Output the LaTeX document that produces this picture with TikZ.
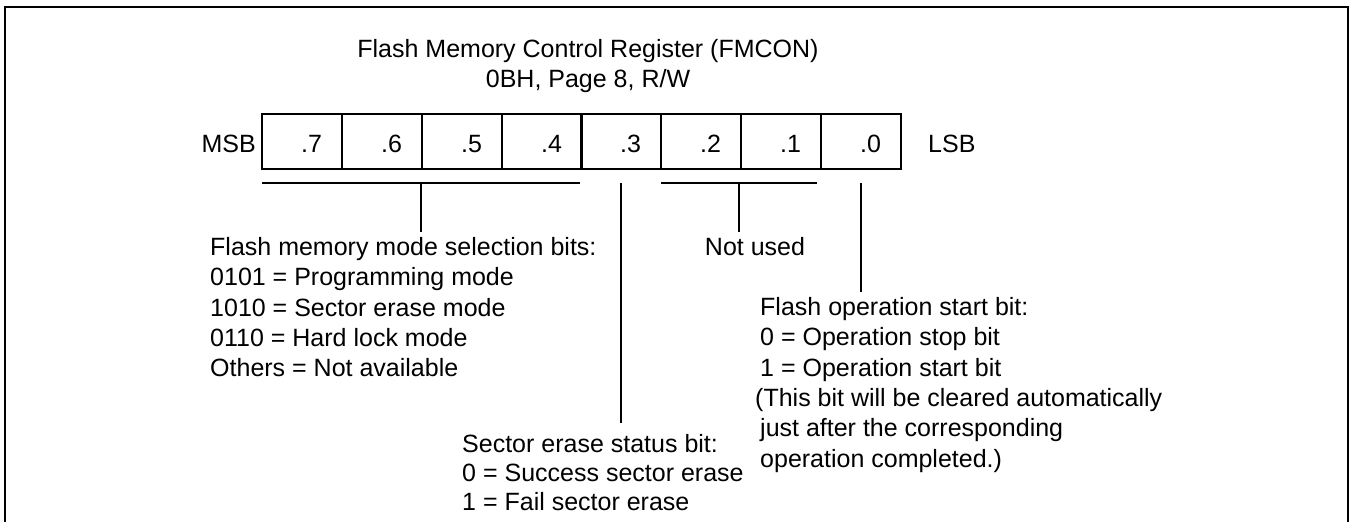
\documentclass[tikz,border=0pt]{standalone}
\usepackage{fontspec}
\setmainfont{Liberation Sans}
\usetikzlibrary{calc}

\begin{document}
\begin{tikzpicture}[x=1pt, y=-1pt,
  font=\fontsize{25pt}{30.4pt}\selectfont,
  cell/.style={rectangle, draw, line width=1.4pt, minimum width=80pt, minimum height=55pt, inner sep=0pt, outer sep=0pt, text width=40pt, text height=21pt, text depth=0pt, align=right},
  note/.style={inner sep=0pt, align=left, anchor=north west},
  bracket/.style={line width=1.8pt},
  stub/.style={line width=1.3pt}
]
\useasboundingbox (0,0) rectangle (1352,522);
\draw[line width=2pt] (5,522) -- (5,7) -- (1348,7) -- (1348,522);

\node[inner sep=0pt, align=center, anchor=north] (title) at (588,39) {Flash Memory Control Register (FMCON)\\0BH, Page 8, R/W};

\node[cell] (b7) at (302,141.5) {.7};
\node[cell] (b6) at (382,141.5) {.6};
\node[cell] (b5) at (462,141.5) {.5};
\node[cell] (b4) at (542,141.5) {.4};
\node[cell] (b3) at (621,141.5) {.3};
\node[cell] (b2) at (701,141.5) {.2};
\node[cell] (b1) at (781,141.5) {.1};
\node[cell] (b0) at (861,141.5) {.0};
\node[inner sep=0pt, anchor=base east] (msb) at (256,152) {MSB};
\node[inner sep=0pt, anchor=base west] (lsb) at (928,152) {LSB};

\node[note] (modetxt) at (210,237) {Flash memory mode selection bits:\\0101 = Programming mode\\1010 = Sector erase mode\\0110 = Hard lock mode\\Others = Not available};
\node[note, anchor=north] (unused) at (755,237) {Not used};
\node[note, font=\fontsize{25pt}{29pt}\selectfont] (erasetxt) at (462,434) {Sector erase status bit:\\0 = Success sector erase\\1 = Fail sector erase};
\node[note] (starttxt) at (760,297) {Flash operation start bit:\\0 = Operation stop bit\\1 = Operation start bit\\\hspace*{-5pt}(This bit will be cleared automatically\\just after the corresponding\\operation completed.)};

\coordinate (modeL) at ([yshift=-14pt]b7.south west);
\coordinate (modeR) at ([xshift=-2pt, yshift=-14pt]b4.south east);
\coordinate (freeL) at ([yshift=-14pt]b2.south west);
\coordinate (freeR) at ([xshift=-4pt, yshift=-14pt]b1.south east);
\coordinate (modemid) at ($(modeL)!0.5!(modeR)$);
\coordinate (freemid) at ($(freeL)!0.5!(freeR)$);

\draw[bracket] (modeL) -- (modeR);
\draw[bracket] (freeL) -- (freeR);
\draw[stub, shorten >=5pt] (modemid) -- (modemid |- modetxt.north);
\draw[stub, shorten >=5pt] (freemid) -- (freemid |- unused.north);
\draw[stub, shorten <=14pt, shorten >=11pt] (b3.south) -- (b3.south |- erasetxt.north);
\draw[stub, shorten <=14pt, shorten >=5pt] (b0.south) -- (b0.south |- starttxt.north);
\end{tikzpicture}
\end{document}
